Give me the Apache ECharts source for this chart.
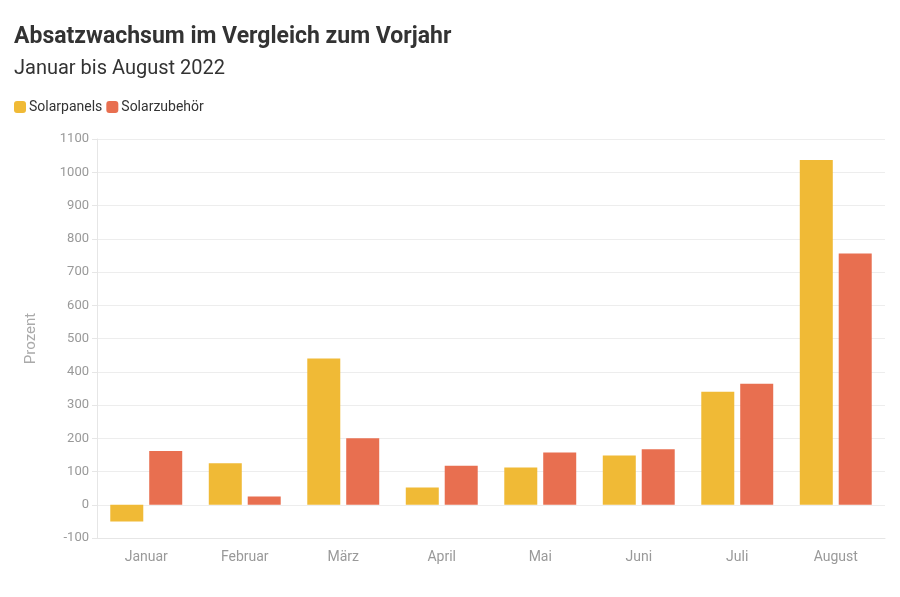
<!DOCTYPE html>
<html><head><meta charset="utf-8">
<script src="https://cdn.jsdelivr.net/npm/echarts@6/dist/echarts.min.js"></script>
<style>html,body{margin:0;padding:0;background:#fff}#c{width:900px;height:597px}</style>
</head><body><div id="c"></div>
<script>
const categories = ['Januar','Februar','März','April','Mai','Juni','Juli','August'];
const solarpanels = [-50, 125, 440, 52, 112, 148, 340, 1037];
const solarzubehoer = [162, 25, 200, 117, 157, 167, 364, 756];
const chart = echarts.init(document.getElementById('c'));
chart.setOption({
  animation: false,
  color: ['#F0BA36', '#E86F50'],
  title: {
    text: 'Absatzwachsum im Vergleich zum Vorjahr',
    subtext: 'Januar bis August 2022',
    left: 9, top: 21, itemGap: 10,
    textStyle: {fontFamily: 'Roboto', fontWeight: 'bold', fontSize: 23, color: '#333'},
    subtextStyle: {fontFamily: 'Roboto', fontSize: 20, color: '#333'}
  },
  legend: {
    left: 9, top: 95, itemWidth: 12, itemHeight: 12, itemGap: 4,
    icon: 'roundRect',
    textStyle: {fontFamily: 'Roboto', fontSize: 14, color: '#333', padding: [0,0,0,-2]},
    data: ['Solarpanels', 'Solarzubehör']
  },
  grid: {left: 97, right: 15, top: 139, bottom: 59, containLabel: false},
  xAxis: {
    type: 'category', data: categories,
    axisLine: {onZero: false, lineStyle: {color: '#e6e6e6'}},
    axisTick: {alignWithLabel: true, lineStyle: {color: '#e6e6e6'}},
    axisLabel: {fontFamily: 'Roboto', fontSize: 14, color: '#999', margin: 12}
  },
  yAxis: {
    type: 'value', min: -100, max: 1100, interval: 100,
    name: 'Prozent', nameLocation: 'middle', nameGap: 58, nameRotate: 90,
    nameTextStyle: {fontFamily: 'Roboto', fontSize: 15, color: '#aaa'},
    axisLine: {show: true, lineStyle: {color: '#e6e6e6'}},
    axisTick: {show: true, length: 5, lineStyle: {color: '#e6e6e6'}},
    axisLabel: {fontFamily: 'Roboto', fontSize: 13, color: '#999', margin: 8, formatter: v => String(v)},
    splitLine: {lineStyle: {color: '#ededed'}}
  },
  series: [
    {name: 'Solarpanels', type: 'bar', data: solarpanels, barWidth: 33, barGap: '18%'},
    {name: 'Solarzubehör', type: 'bar', data: solarzubehoer, barWidth: 33, barGap: '18%'}
  ]
});
</script></body></html>
